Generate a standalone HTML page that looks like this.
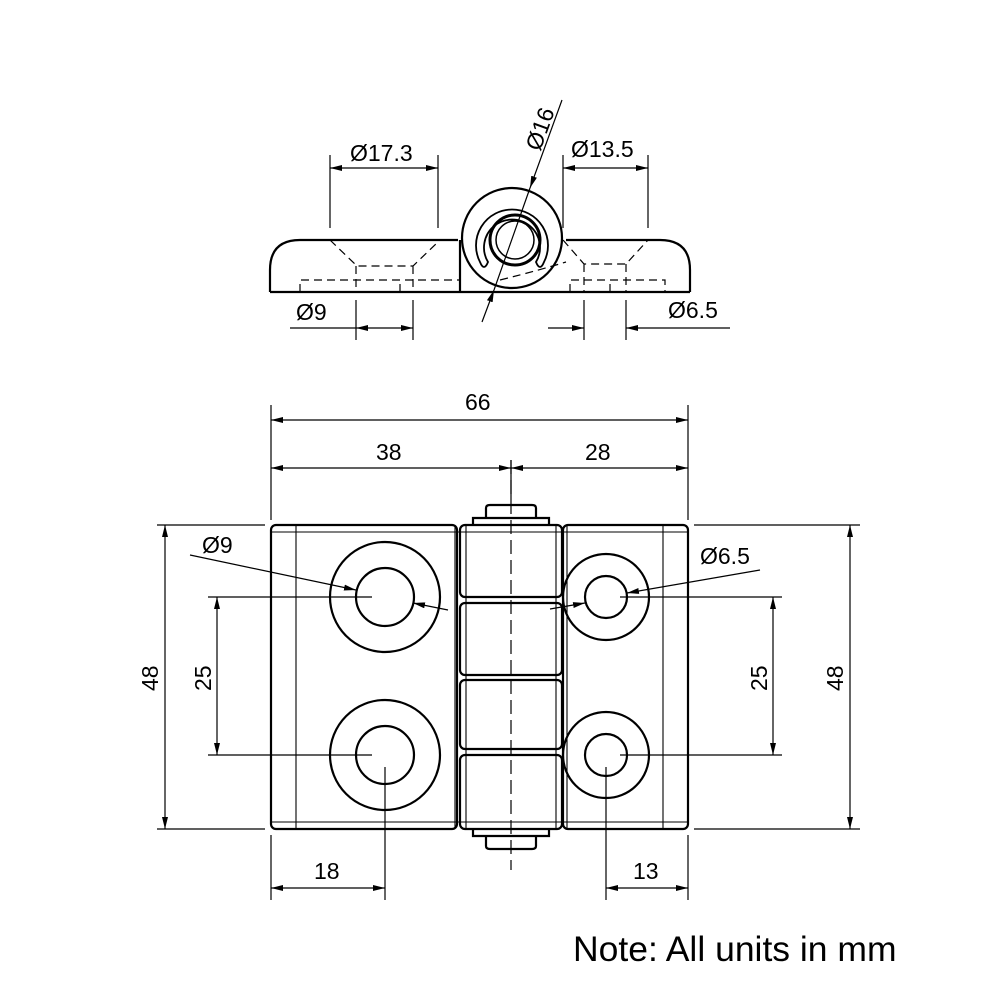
<!DOCTYPE html><html><head><style>body{margin:0;background:#fff}svg{display:block}text{font-family:"Liberation Sans",sans-serif;font-size:23px;fill:#000}</style></head><body>
<svg width="1000" height="1000" viewBox="0 0 1000 1000">
<defs><marker id="a" viewBox="0 0 12 6" refX="12" refY="3" markerWidth="12" markerHeight="6" orient="auto-start-reverse" markerUnits="userSpaceOnUse"><path d="M0,0L12,3L0,6z" fill="#000"/></marker></defs>
<g stroke="#000" fill="none">
<g stroke-width="2.2">
<path d="M270,292 V270 Q270,240 300,240 H458"/>
<path d="M566,240 H660 Q690,240 690,270 V292"/>
<path d="M270,292 H690"/>
<circle cx="512" cy="238" r="50" fill="#fff"/>
<path d="M480,262 A36,36 0 1 1 544,262 Q540,272 536,262 A28,28 0 1 0 488,262 Q484,272 480,262" stroke-width="1.8"/>
<circle cx="515" cy="240" r="25" stroke-width="3"/>
<circle cx="515" cy="240" r="19" stroke-width="1.5"/>
<path d="M460,240 V292"/>
</g>
<g stroke-width="1.2" stroke-dasharray="8,5">
<path d="M330,240 L357,266 H413 L440,240 M356,266 V292 M413,266 V292 M563,240 L584,264 H626 L648,240 M584,264 V292 M626,264 V292"/>
<path d="M300,292 V280 H460 M400,292 V280 M570,292 V280 H665 V292 M610,292 V280 M500,280 Q540,270 566,262"/>
</g>
<g stroke-width="1.2">
<path d="M330,155 V228 M438,155 V228 M563,155 V228 M648,155 V228"/>
<path d="M330,168 H438" marker-start="url(#a)" marker-end="url(#a)"/>
<path d="M563,168 H648" marker-start="url(#a)" marker-end="url(#a)"/>
<path d="M562,100 L530,188" marker-end="url(#a)"/>
<path d="M530,188 L494,290"/>
<path d="M482,322 L494,290" marker-end="url(#a)"/>
<path d="M356,300 V340 M413,300 V340 M584,300 V340 M626,300 V340"/>
<path d="M290,328 H356"/>
<path d="M356,328 H413" marker-start="url(#a)" marker-end="url(#a)"/>
<path d="M548,328 H584" marker-end="url(#a)"/>
<path d="M730,328 H626" marker-end="url(#a)"/>
</g>
<g stroke-width="2.2">
<rect x="271" y="525" width="186" height="304" rx="5"/>
<rect x="563" y="525" width="125" height="304" rx="5"/>
<rect x="460" y="525" width="102" height="72" rx="5"/>
<rect x="460" y="603" width="102" height="72" rx="5"/>
<rect x="460" y="680" width="102" height="69" rx="5"/>
<rect x="460" y="755" width="102" height="74" rx="5"/>
<path d="M486,518 V508 Q486,505 490,505 H532 Q536,505 536,508 V518 M473,525 V518 H549 V525"/>
<path d="M486,836 V846 Q486,849 490,849 H532 Q536,849 536,846 V836 M473,829 V836 H549 V829"/>
<circle cx="385" cy="597" r="55"/><circle cx="385" cy="597" r="29"/>
<circle cx="385" cy="755" r="55"/><circle cx="385" cy="755" r="29"/>
<circle cx="606" cy="597" r="43"/><circle cx="606" cy="597" r="21"/>
<circle cx="606" cy="755" r="43"/><circle cx="606" cy="755" r="21"/>
</g>
<g stroke-width="1.1">
<path d="M296,525 V829 M663,525 V829 M455,525 V829 M567,525 V829 M271,532 H688 M271,822 H688 M466,525 V829 M556,525 V829"/>
</g>
<path d="M511,460 V870" stroke-width="1.2" stroke-dasharray="14,6"/>
<g stroke-width="1.2">
<path d="M271,405 V520 M688,405 V520 M511,460 V500"/>
<path d="M271,420 H688" marker-start="url(#a)" marker-end="url(#a)"/>
<path d="M271,468 H511" marker-start="url(#a)" marker-end="url(#a)"/>
<path d="M511,468 H688" marker-start="url(#a)" marker-end="url(#a)"/>
<path d="M157,525 H265 M157,829 H265 M694,525 H860 M694,829 H860"/>
<path d="M165,525 V829" marker-start="url(#a)" marker-end="url(#a)"/>
<path d="M850,525 V829" marker-start="url(#a)" marker-end="url(#a)"/>
<path d="M208,597 H372 M208,755 H372 M620,597 H782 M620,755 H782"/>
<path d="M217,597 V755" marker-start="url(#a)" marker-end="url(#a)"/>
<path d="M773,597 V755" marker-start="url(#a)" marker-end="url(#a)"/>
<path d="M271,835 V900 M688,835 V900 M385,767 V900 M606,767 V900"/>
<path d="M271,888 H385" marker-start="url(#a)" marker-end="url(#a)"/>
<path d="M606,888 H688" marker-start="url(#a)" marker-end="url(#a)"/>
<path d="M190,555 L356,590" marker-end="url(#a)"/>
<path d="M448,610 L413,603" marker-end="url(#a)"/>
<path d="M760,570 L627,593" marker-end="url(#a)"/>
<path d="M550,609 L585,603" marker-end="url(#a)"/>
</g>
</g>
<text x="350" y="161">Ø17.3</text>
<text x="571" y="157">Ø13.5</text>
<text transform="translate(540,152) rotate(-70)">Ø16</text>
<text x="296" y="320">Ø9</text>
<text x="668" y="318">Ø6.5</text>
<text x="465" y="410">66</text>
<text x="376" y="460">38</text>
<text x="585" y="460">28</text>
<text x="202" y="553">Ø9</text>
<text x="700" y="564">Ø6.5</text>
<text transform="translate(158,691) rotate(-90)">48</text>
<text transform="translate(211,691) rotate(-90)">25</text>
<text transform="translate(767,691) rotate(-90)">25</text>
<text transform="translate(843,691) rotate(-90)">48</text>
<text x="314" y="879">18</text>
<text x="633" y="879">13</text>
<text x="573" y="961" style="font-size:35.5px">Note: All units in mm</text>
</svg></body></html>
